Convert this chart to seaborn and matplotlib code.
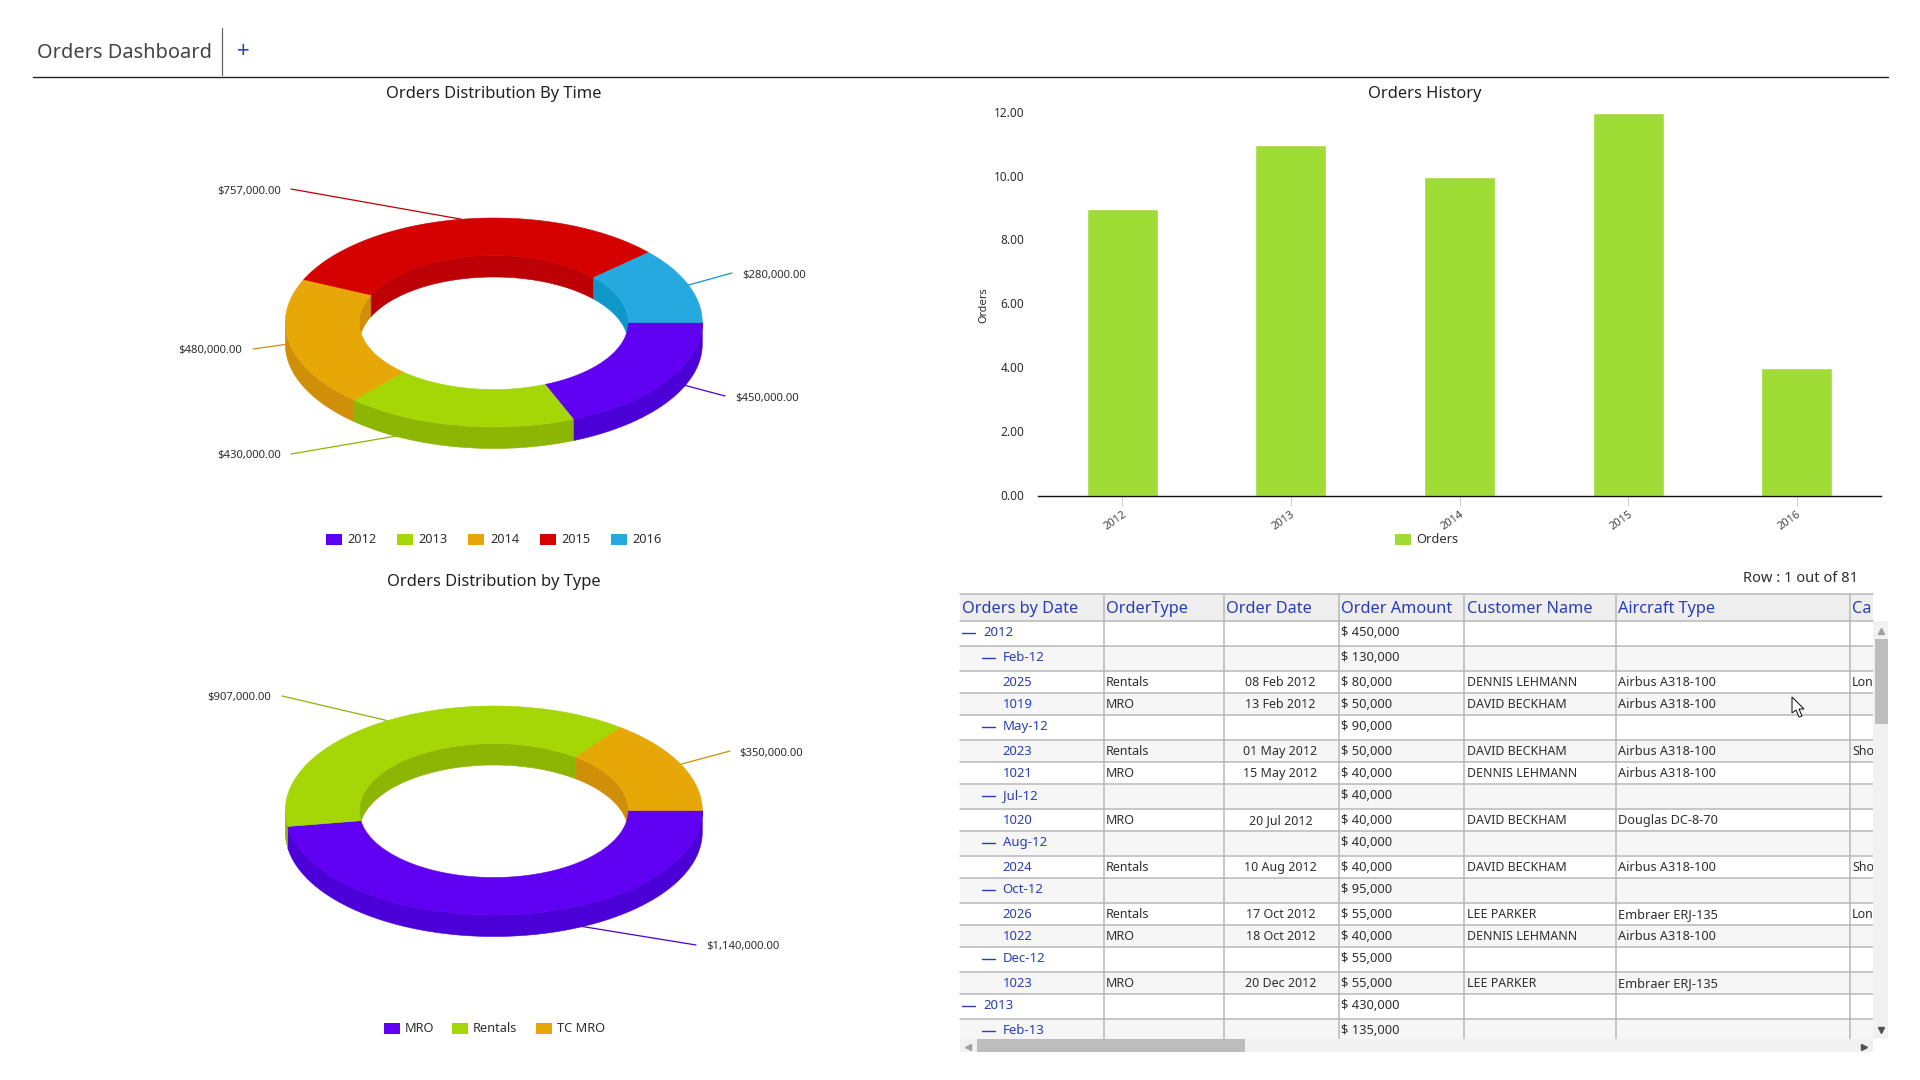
import numpy as np
import pandas as pd
import matplotlib.pyplot as plt
import seaborn as sns
from matplotlib.patches import Rectangle
from matplotlib.transforms import ScaledTranslation

# chart data
years = ["2012", "2013", "2014", "2015", "2016"]
year_amounts = [450000, 430000, 480000, 757000, 280000]
type_names = ["MRO", "Rentals", "TC MRO"]
type_amounts = [1140000, 907000, 350000]
order_counts = [9, 11, 10, 12, 4]

# table data
table_headers = ["Orders by Date", "OrderType", "Order Date", "Order Amount", "Customer Name", "Aircraft Type", "Ca"]
row_names = ["2012", "Feb-12", "2025", "1019", "May-12", "2023", "1021", "Jul-12", "1020", "Aug-12",
             "2024", "Oct-12", "2026", "1022", "Dec-12", "1023", "2013", "Feb-13"]
row_levels = [0, 1, 2, 2, 1, 2, 2, 1, 2, 1, 2, 1, 2, 2, 1, 2, 0, 1]
row_types = ["", "", "Rentals", "MRO", "", "Rentals", "MRO", "", "MRO", "", "Rentals", "", "Rentals", "MRO",
             "", "MRO", "", ""]
row_dates = ["", "", "08 Feb 2012", "13 Feb 2012", "", "01 May 2012", "15 May 2012", "", "20 Jul 2012", "",
             "10 Aug 2012", "", "17 Oct 2012", "18 Oct 2012", "", "20 Dec 2012", "", ""]
row_amounts = ["$ 450,000", "$ 130,000", "$ 80,000", "$ 50,000", "$ 90,000", "$ 50,000", "$ 40,000", "$ 40,000",
               "$ 40,000", "$ 40,000", "$ 40,000", "$ 95,000", "$ 55,000", "$ 40,000", "$ 55,000", "$ 55,000",
               "$ 430,000", "$ 135,000"]
row_customers = ["", "", "DENNIS LEHMANN", "DAVID BECKHAM", "", "DAVID BECKHAM", "DENNIS LEHMANN", "",
                 "DAVID BECKHAM", "", "DAVID BECKHAM", "", "LEE PARKER", "DENNIS LEHMANN", "", "LEE PARKER", "", ""]
row_aircraft = ["", "", "Airbus A318-100", "Airbus A318-100", "", "Airbus A318-100", "Airbus A318-100", "",
                "Douglas DC-8-70", "", "Airbus A318-100", "", "Embraer ERJ-135", "Airbus A318-100", "",
                "Embraer ERJ-135", "", ""]
row_category = ["", "", "Lon", "", "", "Sho", "", "", "", "", "Sho", "", "Lon", "", "", "", "", ""]

# slice colours: top face, wall
PURPLE = ("#6000F2", "#4A00D6")
GREEN = ("#A5D606", "#8DB504")
ORANGE = ("#E6A707", "#CF8F08")
RED = ("#D50000", "#BC0005")
BLUE = ("#25A9DE", "#0E97C8")
BAR_COLOR = "#A0DC36"
TEXT = "#2E2E2E"
LINK = "#2A3DB8"

sns.set_theme(style="white")
plt.rcParams["font.family"] = ["Noto Sans", "DejaVu Sans"]

fig = plt.figure(figsize=(19.2, 10.8), dpi=100, facecolor="white")
canvas = fig.add_axes([0, 0, 1, 1])
canvas.set_xlim(0, 1920)
canvas.set_ylim(1080, 0)
canvas.axis("off")


def label(x, y, s, px, color=TEXT, ha="left", **kw):
    # va center sits a little high for this font
    return canvas.text(x, y + 1.5, s, fontsize=px * 0.72, color=color, ha=ha, va="center", **kw)


def arc(cx, cy, rx, ry, start, stop):
    t = np.radians(np.linspace(start, stop, max(int(abs(stop - start)) * 2, 2)))
    return cx + rx * np.cos(t), cy + ry * np.sin(t)


def draw_donut(cx, cy, amounts, colors, label_spots, over=()):
    rx, ry, irx, iry, depth = 208.5, 104.5, 134.5, 67, 21.5
    edges = np.concatenate([[0], np.cumsum(amounts)]) / np.sum(amounts) * 360
    spans = list(zip(edges[:-1], edges[1:]))

    # leader lines sit behind the walls unless listed in over
    for i, (start, stop) in enumerate(spans):
        mid = np.radians((start + stop) / 2)
        ax_, ay_ = cx + rx * np.cos(mid), cy + ry * np.sin(mid)
        ex, ey, tx, ty, ha = label_spots[i]
        canvas.plot([ax_, ex], [ay_, ey], color=colors[i][1], lw=0.9, zorder=6 if i in over else 2)
        label(tx, ty, f"${amounts[i]:,.2f}", 11.3, ha=ha, zorder=7)

    for (start, stop), color in zip(spans, colors):
        # back part of the hole wall
        lo, hi = max(start, 180), min(stop, 360)
        if lo < hi:
            x, y = arc(cx, cy, irx, iry, lo, hi)
            canvas.fill(np.r_[x, x[::-1]], np.r_[y, y[::-1] + depth], color=color[1], lw=0.4, zorder=3)
        # front outer wall
        lo, hi = max(start, 0), min(stop, 180)
        if lo < hi:
            x, y = arc(cx, cy, rx, ry, lo, hi)
            canvas.fill(np.r_[x, x[::-1]], np.r_[y, y[::-1] + depth], color=color[1], lw=0.4, zorder=3)

    for (start, stop), color in zip(spans, colors):
        x1, y1 = arc(cx, cy, rx, ry, start, stop)
        x2, y2 = arc(cx, cy, irx, iry, stop, start)
        canvas.fill(np.r_[x1, x2], np.r_[y1, y2], color=color[0], lw=0.4, zorder=4)


def legend_row(y, items):
    for sx, tx, name, color in items:
        canvas.add_patch(Rectangle((sx, y - 5), 16, 10.5, color=color, lw=0))
        label(tx, y - 1, name, 12.8)


# header
label(37, 51, "Orders Dashboard", 20, color="#444444")
canvas.plot([222, 222], [28, 75], color="#666666", lw=0.9)
label(243, 50, "+", 22, color="#3344AA", ha="center")
canvas.plot([33, 1888], [77, 77], color="#222222", lw=1.0)

# time donut
label(493.8, 92.5, "Orders Distribution By Time", 16.5, color="#222222", ha="center")
draw_donut(493.8, 322.5, year_amounts, [PURPLE, GREEN, ORANGE, RED, BLUE],
           [(725, 396, 735, 397, "left"), (291, 454, 281, 454, "right"), (253, 349, 242, 349, "right"),
            (291, 189, 281, 190, "right"), (732, 273, 742, 274, "left")], over=(1,))
legend_row(539, [(326, 347, years[0], PURPLE[0]), (397, 418, years[1], GREEN[0]), (468, 490, years[2], ORANGE[0]),
                 (540, 561, years[3], RED[0]), (611, 632, years[4], BLUE[0])])

# type donut
label(493.8, 581, "Orders Distribution by Type", 16.5, color="#222222", ha="center")
draw_donut(493.8, 810.5, type_amounts, [PURPLE, GREEN, ORANGE],
           [(696, 945, 706, 945, "left"), (282, 696, 271, 696, "right"), (730, 751, 739, 752, "left")])
legend_row(1028, [(384, 405, type_names[0], PURPLE[0]), (452, 473, type_names[1], GREEN[0]),
                  (536, 557, type_names[2], ORANGE[0])])

# bar chart
label(1425, 92.5, "Orders History", 16.5, color="#222222", ha="center")
bar_ax = fig.add_axes([1038 / 1920, 1 - 496 / 1080, 843 / 1920, 383 / 1080])
bar_ax.patch.set_alpha(0)
history = pd.DataFrame({"year": years, "orders": order_counts})
sns.barplot(data=history, x="year", y="orders", color=BAR_COLOR, saturation=1, width=0.42, ax=bar_ax)
bar_ax.set_xlim(-0.5, 4.5)
bar_ax.set_ylim(0, 12)
bar_ax.set_xlabel("")
bar_ax.set_ylabel("")
bar_ax.set_yticks(np.arange(0, 13, 2))
bar_ax.set_yticklabels([f"{v:.2f}" for v in np.arange(0, 13, 2)], fontsize=8.5, color=TEXT)
bar_ax.tick_params(axis="y", length=0, pad=10)
bar_ax.tick_params(axis="x", length=7, width=0.7, color="#CCCCCC", pad=2, bottom=True)
nudge = ScaledTranslation(0, 1.2 / 100, fig.dpi_scale_trans)
for tick_label in bar_ax.get_yticklabels():
    tick_label.set_transform(tick_label.get_transform() + nudge)
plt.setp(bar_ax.get_xticklabels(), rotation=35, ha="right", rotation_mode="anchor", fontsize=8,
         color="#444444")
sns.despine(ax=bar_ax, left=True)
bar_ax.spines["bottom"].set_color("#111111")
bar_ax.spines["bottom"].set_linewidth(1.0)
label(983, 304, "Orders", 10.5, rotation=90, ha="center", family="DejaVu Sans")
legend_row(539, [(1395, 1416, "Orders", BAR_COLOR)])

# table
TOP, HEAD_BOTTOM, LEFT, RIGHT, BOTTOM = 594, 621, 960, 1873, 1039
col_lines = [1103.5, 1223.5, 1338.6, 1464, 1616, 1850]
head_x = [962, 1106, 1226, 1341, 1467, 1618, 1852]
line_color = "#B8B8B8"

label(1858, 577.5, "Row : 1 out of 81", 14.7, ha="right")
canvas.add_patch(Rectangle((LEFT, TOP), RIGHT - LEFT, HEAD_BOTTOM - TOP, color="#EEEEEE", lw=0))
for x, name in zip(head_x, table_headers):
    label(x, 607.5, name, 16.3, color=LINK)

y = HEAD_BOTTOM
for i, name in enumerate(row_names):
    level = row_levels[i]
    h = 22 if level == 2 else 25
    if i % 2:
        canvas.add_patch(Rectangle((LEFT, y), RIGHT - LEFT, min(h, BOTTOM - y), color="#F6F6F6", lw=0, zorder=0.5))
    if y + h < BOTTOM:
        canvas.plot([LEFT, RIGHT], [y + h, y + h], color=line_color, lw=1.1, zorder=1)
    ty = y + h / 2 - (2.5 if level < 2 else 1)
    if level == 2:
        label(1002.6, ty, name, 13, color=LINK)
    else:
        dash = 962 if level == 0 else 982
        canvas.plot([dash, dash + 13], [ty + 1.5, ty + 1.5], color=LINK, lw=1.0)
        label(983 if level == 0 else 1002.6, ty, name, 13.2, color=LINK)
    label(1106, ty, row_types[i], 12.5)
    label(1280.4, ty, row_dates[i], 12.5, ha="center")
    label(1341, ty, row_amounts[i], 12.9)
    label(1466.7, ty, row_customers[i], 12.4)
    label(1618, ty, row_aircraft[i], 12.7)
    label(1852, ty, row_category[i], 12.5)
    y += h

for x in col_lines:
    canvas.plot([x, x], [TOP, BOTTOM], color=line_color, lw=1.1, zorder=1)
canvas.plot([LEFT, RIGHT], [TOP, TOP], color=line_color, lw=1.1, zorder=1)
canvas.plot([LEFT, RIGHT], [HEAD_BOTTOM, HEAD_BOTTOM], color=line_color, lw=1.1, zorder=1)

# scrollbars
canvas.add_patch(Rectangle((RIGHT, HEAD_BOTTOM), 15, BOTTOM - HEAD_BOTTOM, color="#F1F1F1", lw=0, zorder=5))
canvas.add_patch(Rectangle((1875, 639), 13, 85, color="#BDBDBD", lw=0, zorder=6))
canvas.add_patch(Rectangle((LEFT, BOTTOM), RIGHT - LEFT, 13, color="#F1F1F1", lw=0, zorder=5))
canvas.add_patch(Rectangle((977, BOTTOM), 268, 13, color="#BDBDBD", lw=0, zorder=6))
canvas.plot([1881], [631], marker="^", ms=4, color="#A0A0A0", zorder=7)
canvas.plot([1881], [1030], marker="v", ms=4, color="#505050", zorder=7)
canvas.plot([968], [1047], marker="<", ms=4, color="#A0A0A0", zorder=7)
canvas.plot([1864], [1047], marker=">", ms=4, color="#505050", zorder=7)

# mouse pointer
canvas.fill([1792, 1792, 1796, 1799, 1802, 1799, 1804], [697, 713, 710, 717, 716, 709, 709],
            facecolor="white", edgecolor="#222222", lw=0.8, zorder=8)

fig.savefig("out.png", dpi=100)
